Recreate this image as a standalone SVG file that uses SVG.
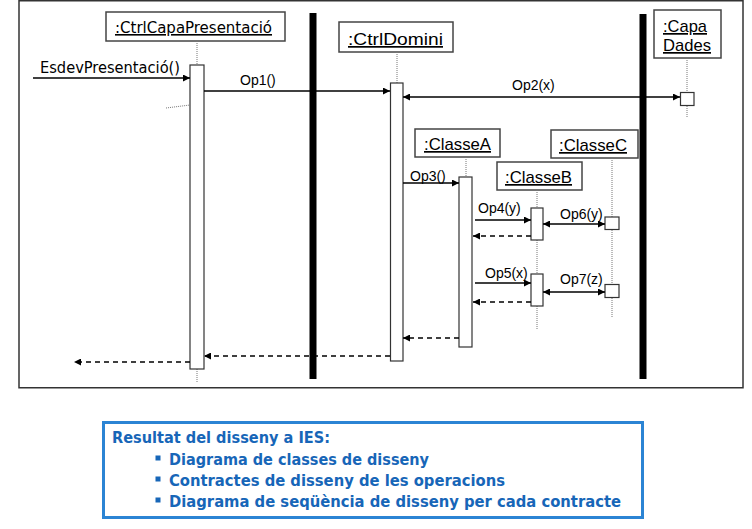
<svg xmlns="http://www.w3.org/2000/svg" width="752" height="529" viewBox="0 0 752 529">
<defs>
<marker id="ah" viewBox="0 0 10 10" refX="10" refY="5" markerWidth="9" markerHeight="7" markerUnits="userSpaceOnUse" orient="auto-start-reverse">
<path d="M0,0 L10,5 L0,10 z" fill="#000"/>
</marker>
<style>
.frame{fill:none;stroke:#333;stroke-width:1.5}
.obj{fill:#fff;stroke:#444;stroke-width:1.5}
.act{fill:#fff;stroke:#333;stroke-width:1.2}
.life{stroke:#777;stroke-width:1;stroke-dasharray:1,1;fill:none}
.bar{fill:#000}
.msg{stroke:#000;stroke-width:1.3;fill:none}
.ret{stroke:#000;stroke-width:1.3;fill:none;stroke-dasharray:5,4}
.t1{font-family:"DejaVu Sans Condensed","DejaVu Sans",sans-serif;font-size:16px;fill:#000}
.t2{font-family:"Liberation Sans",Arial,sans-serif;font-size:17px;fill:#000}
.lbl{font-family:"Liberation Sans",Arial,sans-serif;font-size:14px;fill:#000}
.u{text-decoration:underline}
.note{font-family:"DejaVu Sans Condensed","DejaVu Sans",sans-serif;font-size:16px;font-weight:bold;fill:#1766b8}
</style>
</defs>
<rect class="frame" x="19" y="0.75" width="724" height="387"/>
<rect class="bar" x="309.5" y="13" width="7" height="366"/>
<rect class="bar" x="639.5" y="14" width="7" height="365"/>

<g id="ctrlCapaPresentacio">
<rect class="obj" x="106" y="12" width="179" height="29"/>
<text class="t1 u" x="115" y="33" textLength="157" lengthAdjust="spacingAndGlyphs">:CtrlCapaPresentació</text>
<line class="life" x1="197" y1="41" x2="197" y2="65"/>
<line class="life" x1="197" y1="369" x2="197" y2="382"/>
<rect class="act" x="190" y="65" width="14" height="304"/>
</g>

<g id="ctrlDomini">
<rect class="obj" x="339" y="22" width="114" height="30"/>
<text class="t2 u" x="348" y="45" textLength="95" lengthAdjust="spacingAndGlyphs">:CtrlDomini</text>
<line class="life" x1="397" y1="52" x2="397" y2="83"/>
<rect class="act" x="390.5" y="83" width="12.5" height="278"/>
</g>

<g id="capaDades">
<rect class="obj" x="654" y="10" width="67" height="48"/>
<text class="t2 u" x="663" y="32" textLength="44" lengthAdjust="spacingAndGlyphs">:Capa</text>
<text class="t2 u" x="663" y="51" textLength="48" lengthAdjust="spacingAndGlyphs">Dades</text>
<line class="life" x1="687" y1="58" x2="687" y2="117"/>
<rect class="act" x="680.5" y="92.5" width="13.5" height="13"/>
</g>

<g id="classeA">
<rect class="obj" x="415" y="129" width="85" height="28"/>
<text class="t2 u" x="424" y="150" textLength="67" lengthAdjust="spacingAndGlyphs">:ClasseA</text>
<line class="life" x1="466" y1="157" x2="466" y2="177"/>
<rect class="act" x="459" y="177" width="13" height="170"/>
</g>

<g id="classeB">
<rect class="obj" x="497" y="162" width="85" height="28"/>
<text class="t2 u" x="505" y="183" textLength="67" lengthAdjust="spacingAndGlyphs">:ClasseB</text>
<line class="life" x1="537" y1="190" x2="537" y2="330"/>
<rect class="act" x="531" y="208" width="12" height="32"/>
<rect class="act" x="531" y="274" width="12" height="32"/>
</g>

<g id="classeC">
<rect class="obj" x="551" y="130" width="87" height="28"/>
<text class="t2 u" x="559" y="151" textLength="68" lengthAdjust="spacingAndGlyphs">:ClasseC</text>
<line class="life" x1="612" y1="158" x2="612" y2="317"/>
<rect class="act" x="605" y="217" width="14" height="12.5"/>
<rect class="act" x="605" y="284.5" width="14" height="13"/>
</g>

<g id="connectors">
<line class="msg" x1="33" y1="78" x2="190" y2="78" marker-end="url(#ah)"/>
<text class="t1" x="40" y="73" textLength="140" lengthAdjust="spacingAndGlyphs">EsdevPresentació()</text>
<line class="life" x1="166" y1="108" x2="190" y2="105"/>

<line class="msg" x1="204" y1="91" x2="390" y2="91" marker-end="url(#ah)"/>
<text class="lbl" x="240" y="85">Op1()</text>

<line class="msg" x1="403" y1="97" x2="680" y2="97" marker-start="url(#ah)" marker-end="url(#ah)"/>
<text class="lbl" x="512" y="90">Op2(x)</text>

<line class="msg" x1="403" y1="183" x2="459" y2="183" marker-end="url(#ah)"/>
<text class="lbl" x="410" y="181">Op3()</text>

<line class="msg" x1="475" y1="220" x2="531" y2="220" marker-end="url(#ah)"/>
<text class="lbl" x="478" y="213">Op4(y)</text>
<line class="ret" x1="531" y1="236" x2="473" y2="236" marker-end="url(#ah)"/>

<line class="msg" x1="543" y1="224" x2="605" y2="224" marker-start="url(#ah)" marker-end="url(#ah)"/>
<text class="lbl" x="560" y="219">Op6(y)</text>

<line class="msg" x1="475" y1="283" x2="531" y2="283" marker-end="url(#ah)"/>
<text class="lbl" x="485" y="278">Op5(x)</text>
<line class="ret" x1="531" y1="302" x2="473" y2="302" marker-end="url(#ah)"/>

<line class="msg" x1="543" y1="292" x2="605" y2="292" marker-start="url(#ah)" marker-end="url(#ah)"/>
<text class="lbl" x="560" y="284">Op7(z)</text>

<line class="ret" x1="459" y1="338" x2="403" y2="338" marker-end="url(#ah)"/>
<line class="ret" x1="390" y1="356" x2="204" y2="356" marker-end="url(#ah)"/>
<line class="ret" x1="190" y1="362" x2="74" y2="362" marker-end="url(#ah)"/>
</g>

<g id="resultBox">
<rect x="103.5" y="422.5" width="539" height="95" fill="#fff" stroke="#2b84d4" stroke-width="3"/>
<text class="note" x="112" y="443" textLength="218" lengthAdjust="spacingAndGlyphs">Resultat del disseny a IES:</text>
<rect x="155.5" y="455.5" width="5" height="5" fill="#1766b8"/>
<text class="note" x="169" y="465" textLength="260" lengthAdjust="spacingAndGlyphs">Diagrama de classes de disseny</text>
<rect x="155.5" y="476.5" width="5" height="5" fill="#1766b8"/>
<text class="note" x="169" y="486" textLength="336" lengthAdjust="spacingAndGlyphs">Contractes de disseny de les operacions</text>
<rect x="155.5" y="497.5" width="5" height="5" fill="#1766b8"/>
<text class="note" x="169" y="507" textLength="452" lengthAdjust="spacingAndGlyphs">Diagrama de seqüència de disseny per cada contracte</text>
</g>
</svg>
